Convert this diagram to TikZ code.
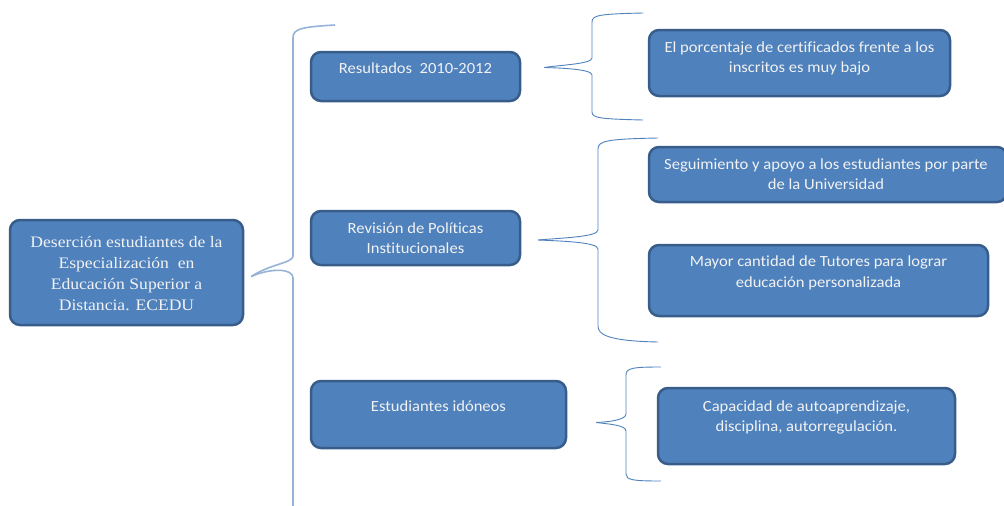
\documentclass[tikz,border=0pt]{standalone}
\usepackage{fontspec}
\setmainfont{Carlito}[FakeStretch=1.07,Ligatures=NoCommon]
\newfontfamily\timesf{Liberation Serif}[FakeStretch=1.1]
\definecolor{boxfill}{HTML}{4F81BD}
\definecolor{boxdraw}{HTML}{385D8A}
\definecolor{bracecol}{HTML}{4F81BD}
\definecolor{bigbracecol}{HTML}{95B3D7}
\begin{document}
\begin{tikzpicture}[x=1pt,y=-1pt,
  box/.style={draw=boxdraw, line width=2.5pt, fill=boxfill, rounded corners=10pt, inner sep=0pt},
  txt/.style={text=white!95!black, align=center, inner sep=0pt, font=\fontsize{15.5}{20.5}\selectfont},
  roottxt/.style={text=white!95!black, align=center, inner sep=0pt, font=\timesf\fontsize{16}{21}\selectfont},
  bracel/.style={draw=bracecol, line width=0.9pt},
  bigbrace/.style={draw=bigbracecol, line width=1.6pt}]
\useasboundingbox (0,0) rectangle (1004,506);

% boxes
\node[box, minimum width=233pt, minimum height=105pt] (root) at (126.5,272.5) {};
\node[roottxt] (roott) at (126.5,273.5) {Deserción estudiantes de la\\Especialización~ en\\Educación Superior a\\Distancia. ECEDU};

\node[box, minimum width=209pt, minimum height=49pt] (res) at (415.5,76.5) {};
\node[txt] (rest) at (415.5,68) {Resultados~ 2010-2012};

\node[box, minimum width=209pt, minimum height=54pt] (rev) at (415.5,238) {};
\node[txt] (revt) at (415.5,238) {Revisión de Políticas\\Institucionales};

\node[box, minimum width=255pt, minimum height=67pt] (est) at (438.5,414.5) {};
\node[txt] (estt) at (438.5,406) {Estudiantes idóneos};

\node[box, minimum width=301pt, minimum height=66pt] (por) at (799.5,63) {};
\node[txt] (port) at (799.5,58.5) {El porcentaje de certificados frente a los\\inscritos es muy bajo};

\node[box, minimum width=358pt, minimum height=55pt] (seg) at (828,174.5) {};
\node[txt] (segt) at (826,174) {Seguimiento y apoyo a los estudiantes por parte\\de la Universidad};

\node[box, minimum width=339pt, minimum height=71pt] (may) at (818.5,280.5) {};
\node[txt] (mayt) at (818.5,273) {Mayor cantidad de Tutores para lograr\\educación personalizada};

\node[box, minimum width=297pt, minimum height=76pt] (cap) at (806.5,426) {};
\node[txt] (capt) at (806.5,417.5) {Capacidad de autoaprendizaje,\\disciplina, autorregulación.};

% brace tips (free ends)
\coordinate (t0) at ([xshift=7pt,yshift=-4pt]root.east);
\coordinate (t1) at ([xshift=23pt,yshift=9pt]res.east);
\coordinate (t2) at ([xshift=17pt,yshift=-2pt]rev.east);
\coordinate (t3) at ([xshift=29pt,yshift=-8pt]est.east);

% big brace
\draw[bigbrace] (335,25) .. controls (300,27) and (293,29) .. (293,38) -- (293,256)
  .. controls (293,263) and (270,264) .. (t0);
\draw[bigbrace] (t0) .. controls (270,268) and (293,268) .. (293,278) -- (293,506);

% brace 1
\draw[bracel] (643,13) .. controls (600,14) and (592,15) .. (592,22) -- (592,58)
  .. controls (592,64) and (560,65) .. (t1);
\draw[bracel] (t1) .. controls (560,68) and (592,69) .. (592,75) -- (592,112)
  .. controls (592,118) and (600,119) .. (643,120);

% brace 2
\draw[bracel] (658,138) .. controls (606,139) and (598,141) .. (598,149) -- (598,230)
  .. controls (598,237) and (560,238) .. (t2);
\draw[bracel] (t2) .. controls (560,241) and (598,242) .. (598,249) -- (598,326)
  .. controls (598,334) and (606,341) .. (658,342);

% brace 3
\draw[bracel] (661,367) .. controls (633,367) and (626,368) .. (626,375) -- (626,414)
  .. controls (626,420) and (608,422) .. (t3);
\draw[bracel] (t3) .. controls (608,424) and (626,425) .. (626,431) -- (626,474)
  .. controls (626,480) and (633,481) .. (661,481);
\end{tikzpicture}
\end{document}
